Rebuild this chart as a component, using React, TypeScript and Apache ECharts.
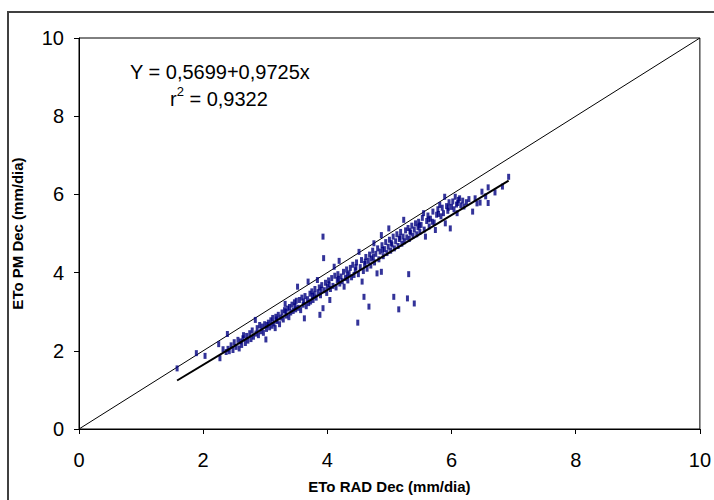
import React, { useEffect, useRef } from "react";
import * as echarts from "echarts";

const xTicks = [0, 2, 4, 6, 8, 10];
const equationText = "Y = 0,5699+0,9725x";
const r2Value = "0,9322";
const identityLine = [[0, 0], [10, 10]];
const regressionLine = [[1.58, 1.24], [6.92, 6.35]];

// [ETo RAD Dec, ETo PM Dec]
const observations = [
  [1.58, 1.55], [1.89, 1.94], [2.03, 1.87], [2.25, 2.17], [2.27, 1.81], [2.32, 2.04], [2.37, 1.97], [2.39, 2.43],
  [2.40, 2.05], [2.42, 1.99], [2.45, 2.14], [2.48, 2.02], [2.50, 2.22], [2.53, 2.10], [2.56, 2.28], [2.58, 2.06],
  [2.60, 2.24], [2.62, 2.15], [2.64, 2.32], [2.65, 2.40], [2.68, 2.20], [2.70, 2.38], [2.72, 2.26], [2.75, 2.45],
  [2.77, 2.30], [2.79, 2.52], [2.81, 2.36], [2.84, 2.79], [2.85, 2.44], [2.87, 2.58], [2.89, 2.40], [2.91, 2.66],
  [2.93, 2.50], [2.95, 2.62], [2.97, 2.46], [2.99, 2.68], [3.01, 2.29], [3.02, 2.56], [3.05, 2.72], [3.07, 2.60],
  [3.09, 2.78], [3.11, 2.64], [3.12, 2.84], [3.14, 2.70], [3.16, 2.58], [3.17, 2.87], [3.19, 2.76], [3.21, 2.92],
  [3.23, 2.68], [3.25, 2.85], [3.27, 2.98], [3.29, 2.80], [3.31, 3.04], [3.32, 3.20], [3.34, 2.90], [3.36, 3.08],
  [3.38, 2.86], [3.39, 3.12], [3.41, 2.98], [3.43, 3.18], [3.45, 3.02], [3.47, 3.24], [3.49, 3.06], [3.50, 3.28],
  [3.52, 3.64], [3.53, 3.10], [3.55, 3.30], [3.57, 3.04], [3.59, 3.36], [3.61, 3.18], [3.63, 2.83], [3.64, 3.40],
  [3.66, 3.14], [3.68, 3.32], [3.69, 3.77], [3.70, 3.22], [3.72, 3.46], [3.73, 3.26], [3.75, 3.52], [3.77, 3.30],
  [3.79, 3.44], [3.80, 3.58], [3.82, 3.36], [3.84, 3.81], [3.85, 3.50], [3.87, 3.62], [3.88, 2.92], [3.89, 3.42],
  [3.91, 3.68], [3.93, 4.92], [3.93, 3.09], [3.94, 4.37], [3.95, 3.55], [3.97, 3.74], [3.99, 3.48], [4.00, 3.64],
  [4.02, 3.80], [4.04, 3.30], [4.05, 3.58], [4.07, 3.86], [4.09, 3.66], [4.11, 4.15], [4.12, 3.92], [4.14, 3.62],
  [4.16, 3.81], [4.17, 3.96], [4.19, 4.30], [4.20, 3.72], [4.22, 3.90], [4.24, 3.78], [4.26, 4.02], [4.27, 3.64],
  [4.29, 3.86], [4.31, 4.08], [4.33, 3.80], [4.35, 3.98], [4.37, 4.12], [4.39, 3.88], [4.41, 4.20], [4.43, 3.94],
  [4.45, 4.06], [4.47, 4.26], [4.49, 2.72], [4.50, 3.96], [4.51, 4.53], [4.53, 4.14], [4.55, 4.32], [4.56, 3.77],
  [4.58, 4.04], [4.59, 3.38], [4.60, 4.22], [4.62, 4.40], [4.64, 4.10], [4.66, 4.30], [4.67, 3.13], [4.68, 4.46],
  [4.70, 4.18], [4.71, 4.36], [4.73, 4.56], [4.75, 4.75], [4.76, 4.26], [4.78, 4.48], [4.80, 3.98], [4.81, 4.62],
  [4.83, 4.34], [4.85, 4.54], [4.87, 4.02], [4.87, 4.96], [4.88, 4.70], [4.90, 4.42], [4.92, 4.60], [4.94, 4.78],
  [4.96, 4.50], [4.98, 4.66], [4.99, 5.13], [5.00, 4.84], [5.02, 4.56], [5.04, 4.72], [5.06, 4.92], [5.07, 3.38],
  [5.08, 4.62], [5.10, 4.80], [5.12, 4.98], [5.14, 4.68], [5.15, 3.06], [5.16, 4.86], [5.18, 5.04], [5.20, 4.74],
  [5.22, 4.92], [5.23, 5.35], [5.24, 4.80], [5.26, 5.08], [5.28, 4.90], [5.29, 3.34], [5.30, 5.14], [5.31, 3.96],
  [5.32, 4.86], [5.34, 5.02], [5.36, 5.20], [5.38, 4.94], [5.40, 3.21], [5.40, 5.10], [5.42, 5.26], [5.44, 4.98],
  [5.46, 5.16], [5.47, 5.30], [5.49, 5.04], [5.51, 5.22], [5.53, 5.40], [5.55, 5.52], [5.56, 5.10], [5.58, 4.92],
  [5.60, 5.32], [5.62, 5.46], [5.64, 5.18], [5.66, 5.38], [5.69, 5.30], [5.70, 5.56], [5.72, 5.28], [5.74, 5.09],
  [5.76, 5.48], [5.78, 5.62], [5.81, 5.73], [5.83, 5.44], [5.85, 5.66], [5.87, 5.52], [5.89, 5.94], [5.90, 5.26],
  [5.92, 5.70], [5.94, 5.58], [5.96, 5.80], [5.98, 5.13], [6.00, 5.68], [6.02, 5.82], [6.04, 5.62], [6.06, 5.94],
  [6.08, 5.74], [6.09, 5.52], [6.11, 5.86], [6.13, 5.90], [6.15, 5.72], [6.18, 5.84], [6.20, 5.69], [6.24, 5.80],
  [6.28, 5.88], [6.34, 5.56], [6.38, 5.90], [6.41, 5.77], [6.46, 5.79], [6.49, 6.07], [6.55, 5.95], [6.59, 6.18],
  [6.59, 5.78], [6.70, 6.05], [6.82, 6.20], [6.92, 6.45],
  [3.03, 2.66], [3.18, 2.80], [3.33, 3.00], [3.48, 3.14], [3.62, 3.26], [3.76, 3.40], [3.90, 3.56], [4.03, 3.70],
  [4.18, 3.84], [4.32, 3.94], [4.46, 4.14], [4.61, 4.28], [4.74, 4.40], [4.89, 4.58], [5.03, 4.76], [5.17, 4.90],
  [5.33, 5.06], [5.48, 5.20], [5.63, 5.36], [5.79, 5.50], [5.95, 5.66], [6.10, 5.78],
];

export default function App() {
  const ref = useRef<HTMLDivElement>(null);
  useEffect(() => {
    document.body.style.margin = "0";
    const chart = echarts.init(ref.current!, null, { renderer: "svg" });
    const font = "Arial, 'Liberation Sans', sans-serif";
    chart.setOption({
      animation: false,
      backgroundColor: "#fff",
      grid: {
        left: 79,
        top: 38,
        right: 12,
        bottom: 71,
        show: true,
        borderColor: "#000",
        borderWidth: 1,
      },
      xAxis: {
        type: "value",
        min: xTicks[0],
        max: xTicks[xTicks.length - 1],
        interval: 2,
        name: "ETo RAD Dec (mm/dia)",
        nameLocation: "middle",
        nameGap: 50,
        nameTextStyle: { fontFamily: font, fontWeight: "bold", fontSize: 15, color: "#000" },
        axisLine: { lineStyle: { color: "#000", width: 1 } },
        axisTick: { show: true, length: 5, lineStyle: { color: "#000" } },
        axisLabel: { fontFamily: font, fontSize: 20, color: "#000", margin: 21 },
        splitLine: { show: false },
      },
      yAxis: {
        type: "value",
        min: 0,
        max: 10,
        interval: 2,
        name: "ETo PM Dec (mm/dia)",
        nameLocation: "middle",
        nameGap: 54,
        nameTextStyle: { fontFamily: font, fontWeight: "bold", fontSize: 15, color: "#000" },
        axisLine: { lineStyle: { color: "#000", width: 1 } },
        axisTick: { show: true, length: 5, lineStyle: { color: "#000" } },
        axisLabel: { fontFamily: font, fontSize: 20, color: "#000", margin: 15 },
        splitLine: { show: false },
      },
      graphic: [
        {
          type: "rect",
          shape: { x: 8, y: 12, width: 740, height: 520 },
          style: { fill: "none", stroke: "#404040", lineWidth: 2 },
          silent: true,
        },
        {
          type: "text",
          x: 130,
          y: 62,
          style: { text: equationText, font: `20px ${font}`, fill: "#000" },
        },
        {
          type: "text",
          x: 170,
          y: 85,
          style: {
            text: `{a|r}{s|2}{a| = ${r2Value}}`,
            rich: {
              a: { fontFamily: font, fontSize: 20, fill: "#000", verticalAlign: "bottom", lineHeight: 24 },
              s: { fontFamily: font, fontSize: 13, fill: "#000", verticalAlign: "top", lineHeight: 24 },
            },
          },
        },
      ],
      series: [
        {
          type: "line",
          data: identityLine,
          symbol: "none",
          lineStyle: { color: "#000", width: 1 },
          z: 1,
        },
        {
          type: "scatter",
          data: observations,
          symbol: "rect",
          symbolSize: [3, 6],
          itemStyle: { color: "#000080" },
          z: 2,
        },
        {
          type: "line",
          data: regressionLine,
          symbol: "none",
          lineStyle: { color: "#000", width: 2 },
          z: 3,
        },
      ],
    });
    return () => chart.dispose();
  }, []);
  return <div ref={ref} style={{ width: 714, height: 500 }} />;
}
